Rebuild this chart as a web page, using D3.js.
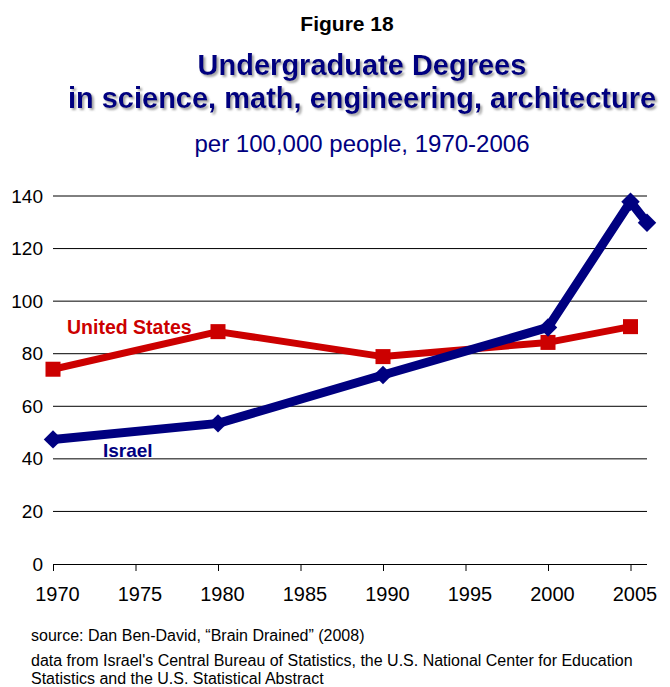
<!DOCTYPE html>
<html><head><meta charset="utf-8">
<script src="https://cdn.jsdelivr.net/npm/d3@7"></script>
<style>body{margin:0;background:#fff}svg{display:block}text{font-family:"Liberation Sans",Arial,sans-serif}</style>
</head><body>
<svg id="c" width="670" height="687"></svg>
<script>
const usYears = [1970, 1980, 1990, 2000, 2005];
const usValues = [74.1, 88.4, 78.9, 84.3, 90.3];
const ilYears = [1970, 1980, 1990, 2000, 2005, 2006];
const ilValues = [47.4, 53.5, 71.9, 90.0, 137.8, 129.8];
const yTicks = [0, 20, 40, 60, 80, 100, 120, 140];
const xTicks = [1970, 1975, 1980, 1985, 1990, 1995, 2000, 2005];

const svg = d3.select("#c");
const x = d3.scaleLinear().domain([1970, 2006]).range([53, 647]);
const y = d3.scaleLinear().domain([0, 140]).range([564, 196]);
const red = "#cc0000", navy = "#000080";

// titles
const defs = svg.append("defs");
defs.append("filter").attr("id","sh").attr("x","-5%").attr("y","-20%").attr("width","110%").attr("height","150%")
  .append("feDropShadow").attr("dx",2).attr("dy",2).attr("stdDeviation",1).attr("flood-color","#8a8a8a").attr("flood-opacity",0.8);
svg.append("text").attr("x",347).attr("y",31).attr("text-anchor","middle")
  .attr("font-size",21).attr("font-weight","bold").attr("fill","#000").text("Figure 18");
const titles = [["Undergraduate Degrees",75],["in science, math, engineering, architecture",108]];
titles.forEach(([t,yy])=>{
  svg.append("text").attr("x",362).attr("y",yy).attr("text-anchor","middle")
    .attr("font-size",29).attr("font-weight","bold").attr("fill",navy).attr("filter","url(#sh)").text(t);
});
svg.append("text").attr("x",362).attr("y",152).attr("text-anchor","middle")
  .attr("font-size",24).attr("fill",navy).text("per 100,000 people, 1970-2006");

// grid
svg.append("g").selectAll("line").data(yTicks.filter(d=>d>0)).join("line")
  .attr("x1",x(1970)).attr("x2",x(2006)).attr("y1",d=>y(d)).attr("y2",d=>y(d))
  .attr("stroke","#000").attr("stroke-width",1);

// axes
const ya = svg.append("g").attr("transform",`translate(${x(1970)},0)`)
  .call(d3.axisLeft(y).tickValues(yTicks).tickSize(0).tickPadding(10));
ya.select(".domain").remove();
ya.selectAll("text").attr("font-size",19).attr("font-family","Liberation Sans, Arial").attr("fill","#000");

const xa = svg.append("g").attr("transform",`translate(0,${y(0)})`)
  .call(d3.axisBottom(x).tickValues(xTicks).tickFormat(d3.format("d")).tickSize(7).tickPadding(16).tickSizeOuter(0));
xa.select(".domain").attr("stroke","#000").attr("d",`M${x(1970)},0.5H${x(2006)}`);
xa.selectAll("line").attr("stroke","#000");
xa.selectAll("text").attr("font-size",20).attr("dx",4).attr("font-family","Liberation Sans, Arial").attr("fill","#000");

// lines
const line = d3.line().x(d=>x(d[0])).y(d=>y(d[1]));
const us = usYears.map((d,i)=>[d,usValues[i]]);
const il = ilYears.map((d,i)=>[d,ilValues[i]]);
svg.append("path").datum(us).attr("d",line).attr("fill","none").attr("stroke",red).attr("stroke-width",7).attr("stroke-linejoin","round");
svg.append("g").selectAll("rect").data(us).join("rect")
  .attr("x",d=>x(d[0])-7.5).attr("y",d=>y(d[1])-7.5).attr("width",15).attr("height",15).attr("fill",red);
svg.append("path").datum(il).attr("d",line).attr("fill","none").attr("stroke",navy).attr("stroke-width",9).attr("stroke-linejoin","round");
svg.append("g").selectAll("path").data(il).join("path")
  .attr("d",d3.symbol(d3.symbolSquare, 170))
  .attr("transform",d=>`translate(${x(d[0])},${y(d[1])}) rotate(45)`).attr("fill",navy);

// labels
svg.append("text").attr("x",67).attr("y",334).attr("font-size",19.5).attr("font-weight","bold").attr("fill",red).text("United States");
svg.append("text").attr("x",103).attr("y",457).attr("font-size",19).attr("font-weight","bold").attr("fill",navy).text("Israel");

// footer
svg.append("text").attr("x",31).attr("y",641).attr("font-size",16).attr("fill","#000").text("source: Dan Ben-David, \u201cBrain Drained\u201d (2008)");
svg.append("text").attr("x",31).attr("y",666).attr("font-size",16).attr("fill","#000").text("data from Israel's Central Bureau of Statistics, the U.S. National Center for Education");
svg.append("text").attr("x",31).attr("y",684).attr("font-size",16).attr("fill","#000").text("Statistics and the U.S. Statistical Abstract");
</script>
</body></html>
